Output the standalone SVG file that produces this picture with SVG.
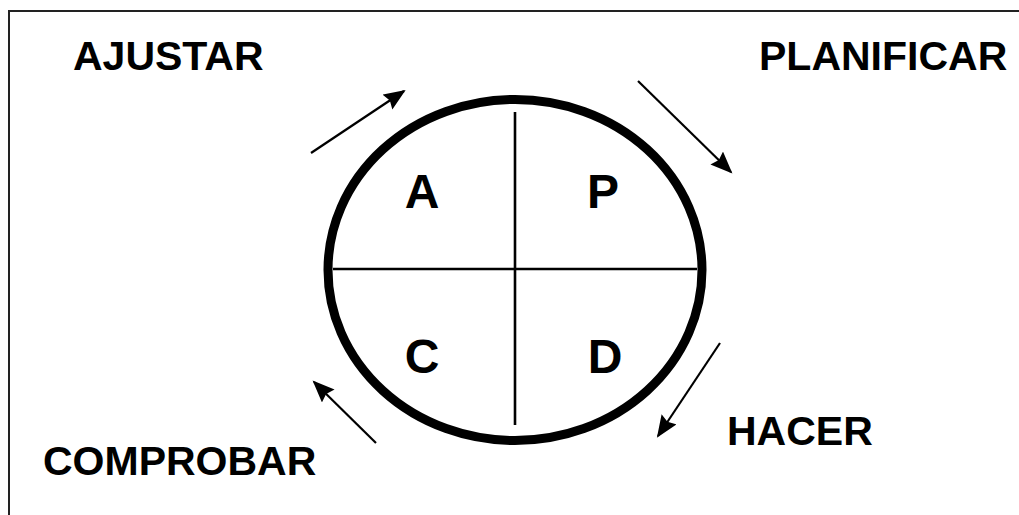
<svg xmlns="http://www.w3.org/2000/svg" width="1019" height="515" viewBox="0 0 1019 515">
  <defs>
    <style>
      .lbl { font-family: "Liberation Sans", Arial, sans-serif; font-weight: bold; font-size: 41px; fill: #000; }
      .q { font-family: "Liberation Sans", Arial, sans-serif; font-weight: bold; font-size: 48px; fill: #000; text-anchor: middle; }
      .arr { stroke: #000; stroke-width: 2.2; fill: none; marker-end: url(#ah); }
    </style>
    <marker id="ah" markerUnits="userSpaceOnUse" markerWidth="24" markerHeight="20" refX="20" refY="9" orient="auto">
      <path d="M0,0 L22,9 L0,18 L3,9 z" fill="#000"/>
    </marker>
  </defs>
  <rect x="0" y="0" width="1019" height="515" fill="#fff"/>
  <rect x="9" y="11" width="1030" height="520" fill="none" stroke="#222" stroke-width="2"/>

  <g id="cycle">
    <ellipse cx="515" cy="270" rx="187" ry="170.5" fill="none" stroke="#000" stroke-width="9"/>
    <line x1="333" y1="269" x2="697" y2="269" stroke="#000" stroke-width="2.6"/>
    <line x1="515" y1="112" x2="515" y2="425" stroke="#000" stroke-width="2.6"/>
  </g>
  <g id="quadA"><text class="q" x="422" y="208">A</text></g>
  <g id="quadP"><text class="q" x="603" y="208">P</text></g>
  <g id="quadC"><text class="q" x="422" y="373">C</text></g>
  <g id="quadD"><text class="q" x="605" y="373">D</text></g>

  <g id="ajustar"><text class="lbl" x="73" y="70">AJUSTAR</text></g>
  <g id="planificar"><text class="lbl" x="759" y="70">PLANIFICAR</text></g>
  <g id="hacer"><text class="lbl" x="727" y="445">HACER</text></g>
  <g id="comprobar"><text class="lbl" x="43" y="475">COMPROBAR</text></g>

  <g id="connectors">
    <line class="arr" x1="311" y1="153" x2="404" y2="91"/>
    <line class="arr" x1="638" y1="81" x2="731" y2="172"/>
    <line class="arr" x1="720" y1="343" x2="658" y2="436"/>
    <line class="arr" x1="376" y1="443" x2="314" y2="382"/>
  </g>
</svg>
